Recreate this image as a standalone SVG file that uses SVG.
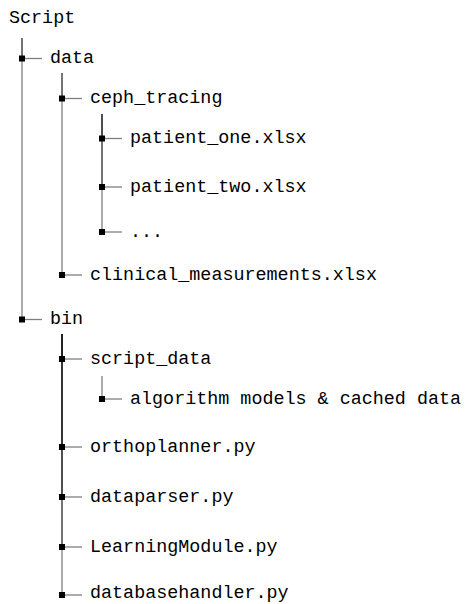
<svg xmlns="http://www.w3.org/2000/svg" width="467" height="604" viewBox="0 0 467 604">
<defs>
<style>
text{font-family:"Liberation Mono","DejaVu Sans Mono",monospace;font-size:18.4px;fill:#000}
.v,.h{stroke:#000;stroke-opacity:0.5;stroke-width:1.3;fill:none}
.sq{fill:#000}
</style>
</defs>
<rect width="467" height="604" fill="#fff"/>
<g id="connectors">
<line class="v" x1="22" y1="38" x2="22" y2="58.5"/>
<line class="v" x1="22" y1="38" x2="22" y2="319.5"/>
<line class="v" x1="62" y1="73" x2="62" y2="98.5"/>
<line class="v" x1="62" y1="73" x2="62" y2="275"/>
<line class="v" x1="102" y1="114" x2="102" y2="138.5"/>
<line class="v" x1="102" y1="114" x2="102" y2="187"/>
<line class="v" x1="102" y1="114" x2="102" y2="232"/>
<line class="v" x1="62" y1="334" x2="62" y2="359"/>
<line class="v" x1="62" y1="334" x2="62" y2="447"/>
<line class="v" x1="62" y1="334" x2="62" y2="497"/>
<line class="v" x1="62" y1="334" x2="62" y2="547"/>
<line class="v" x1="62" y1="334" x2="62" y2="595"/>
<line class="v" x1="102" y1="376" x2="102" y2="399"/>
<line class="h" x1="22" y1="58.5" x2="42" y2="58.5"/>
<line class="h" x1="62" y1="98.5" x2="82" y2="98.5"/>
<line class="h" x1="102" y1="138.5" x2="122" y2="138.5"/>
<line class="h" x1="102" y1="187" x2="122" y2="187"/>
<line class="h" x1="102" y1="232" x2="122" y2="232"/>
<line class="h" x1="62" y1="275" x2="82" y2="275"/>
<line class="h" x1="22" y1="319.5" x2="42" y2="319.5"/>
<line class="h" x1="62" y1="359" x2="82" y2="359"/>
<line class="h" x1="102" y1="399" x2="122" y2="399"/>
<line class="h" x1="62" y1="447" x2="82" y2="447"/>
<line class="h" x1="62" y1="497" x2="82" y2="497"/>
<line class="h" x1="62" y1="547" x2="82" y2="547"/>
<line class="h" x1="62" y1="595" x2="82" y2="595"/>
</g>
<g id="n-script"><text x="9" y="23">Script</text></g>
<g id="n-data"><rect class="sq" x="19" y="55.5" width="6" height="6"/><text x="50" y="63">data</text></g>
<g id="n-ceph"><rect class="sq" x="59" y="95.5" width="6" height="6"/><text x="90" y="103">ceph_tracing</text></g>
<g id="n-p1"><rect class="sq" x="99" y="135.5" width="6" height="6"/><text x="130" y="143">patient_one.xlsx</text></g>
<g id="n-p2"><rect class="sq" x="99" y="184" width="6" height="6"/><text x="130" y="191.5">patient_two.xlsx</text></g>
<g id="n-dots"><rect class="sq" x="99" y="229" width="6" height="6"/><text x="130" y="236.5">...</text></g>
<g id="n-clinical"><rect class="sq" x="59" y="272" width="6" height="6"/><text x="90" y="279.5">clinical_measurements.xlsx</text></g>
<g id="n-bin"><rect class="sq" x="19" y="316.5" width="6" height="6"/><text x="50" y="324">bin</text></g>
<g id="n-scriptdata"><rect class="sq" x="59" y="356" width="6" height="6"/><text x="90" y="363.5">script_data</text></g>
<g id="n-algo"><rect class="sq" x="99" y="396" width="6" height="6"/><text x="130" y="403.5">algorithm models &amp; cached data</text></g>
<g id="n-ortho"><rect class="sq" x="59" y="444" width="6" height="6"/><text x="90" y="451.5">orthoplanner.py</text></g>
<g id="n-dataparser"><rect class="sq" x="59" y="494" width="6" height="6"/><text x="90" y="501.5">dataparser.py</text></g>
<g id="n-learning"><rect class="sq" x="59" y="544" width="6" height="6"/><text x="90" y="551.5">LearningModule.py</text></g>
<g id="n-dbh"><rect class="sq" x="59" y="592" width="6" height="6"/><text x="90" y="598">databasehandler.py</text></g>
</svg>
